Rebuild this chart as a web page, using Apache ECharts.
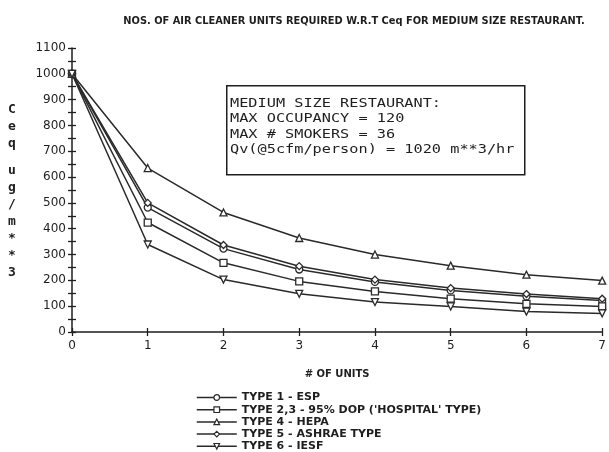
<!DOCTYPE html>
<html>
<head>
<meta charset="utf-8">
<script src="https://cdn.jsdelivr.net/npm/echarts@6/dist/echarts.min.js"></script>
<style>
  html, body { margin: 0; padding: 0; background: #fff; }
  #chart { width: 609px; height: 452px; }
</style>
</head>
<body>
<div id="chart"></div>
<script>
// Number of air cleaner units on the x axis
const units = [0, 1, 2, 3, 4, 5, 6, 7];

// Equilibrium concentration Ceq (ug/m**3) for each air cleaner type
const type1Esp      = [1000, 482, 323, 242, 194, 161, 138, 122];
const type23Dop     = [1000, 424, 268, 196, 157, 129, 109,  99];
const type4Hepa     = [1000, 635, 463, 364, 300, 257, 222, 199];
const type5Ashrae   = [1000, 500, 337, 255, 203, 170, 147, 129];
const type6Iesf     = [1000, 339, 203, 148, 116,  99,  79,  72];

const seriesNames = [
  "TYPE 1 - ESP",
  "TYPE 2,3 - 95% DOP ('HOSPITAL' TYPE)",
  "TYPE 4 - HEPA",
  "TYPE 5 - ASHRAE TYPE",
  "TYPE 6 - IESF"
];

const yTicks = { min: 0, max: 1100, step: 100 };
const xTicks = { min: 0, max: 7, step: 1 };

const titleText = "NOS. OF AIR CLEANER UNITS REQUIRED W.R.T Ceq FOR MEDIUM SIZE RESTAURANT.";
const xName = "# OF UNITS";
const boxLines = [
  "MEDIUM SIZE RESTAURANT:",
  "MAX OCCUPANCY = 120",
  "MAX # SMOKERS = 36",
  "Qv(@5cfm/person) = 1020 m**3/hr"
];

const ink = '#1e1e1e';
const lineInk = '#2a2a2a';
const labelFont = 'DejaVu Sans';
const monoFont = 'DejaVu Sans Mono';

function pairs(vals) { return units.map((u, i) => [u, vals[i]]); }

function lineSeries(name, vals, symbol, rotate) {
  return {
    name: name,
    type: 'line',
    data: pairs(vals),
    symbol: symbol,
    symbolSize: 7,
    symbolRotate: rotate || 0,
    showAllSymbol: true,
    lineStyle: { color: lineInk, width: 1.5 },
    itemStyle: { color: '#fff', borderColor: lineInk, borderWidth: 1.3 },
    emphasis: { disabled: true },
    z: 3
  };
}

const chart = echarts.init(document.getElementById('chart'), null, { renderer: 'canvas' });

const axisLineStyle = { color: ink, width: 1.5 };
const tickStyle = { color: ink, width: 1.3 };

const option = {
  backgroundColor: '#ffffff',
  animation: false,
  title: {
    text: titleText,
    left: 349,
    top: 11,
    textAlign: 'center',
    textStyle: { fontFamily: labelFont, fontSize: 9.85, fontWeight: 'bold', color: ink }
  },
  grid: { left: 72, right: 5, top: 48, bottom: 120, containLabel: false },
  xAxis: [
    {
      type: 'value', min: xTicks.min, max: xTicks.max, interval: xTicks.step,
      position: 'bottom',
      name: xName, nameLocation: 'middle', nameGap: 37,
      nameTextStyle: { fontFamily: labelFont, fontSize: 10, fontWeight: 'bold', color: ink },
      axisLine: { show: true, lineStyle: axisLineStyle },
      axisTick: { show: true, length: 4, lineStyle: tickStyle },
      axisLabel: { fontFamily: labelFont, fontSize: 12, color: ink, margin: 8 },
      splitLine: { show: false }
    },
    {
      type: 'value', min: xTicks.min, max: xTicks.max, interval: xTicks.step,
      position: 'bottom', offset: 0,
      axisLine: { show: false },
      axisTick: { show: true, inside: true, length: 4, lineStyle: tickStyle },
      axisLabel: { show: false },
      splitLine: { show: false }
    }
  ],
  yAxis: [
    {
      type: 'value', min: yTicks.min, max: yTicks.max, interval: yTicks.step,
      position: 'left',
      axisLine: { show: true, lineStyle: axisLineStyle },
      axisTick: { show: true, length: 4, lineStyle: tickStyle },
      minorTick: { show: true, splitNumber: 2, length: 4, lineStyle: tickStyle },
      axisLabel: { fontFamily: labelFont, fontSize: 12, color: ink, margin: 6, formatter: v => String(v) },
      splitLine: { show: false },
      minorSplitLine: { show: false }
    },
    {
      type: 'value', min: yTicks.min, max: yTicks.max, interval: yTicks.step,
      position: 'left', offset: 0,
      axisLine: { show: false },
      axisTick: { show: true, inside: true, length: 4, lineStyle: tickStyle },
      minorTick: { show: true, splitNumber: 2, length: 4, lineStyle: tickStyle },
      axisLabel: { show: false },
      splitLine: { show: false },
      minorSplitLine: { show: false }
    }
  ],
  legend: {
    orient: 'vertical',
    left: 196,
    top: 392,
    itemWidth: 40,
    itemHeight: 7,
    itemGap: 1.2,
    padding: 0,
    data: seriesNames,
    selectedMode: false,
    itemStyle: { color: '#fff', borderColor: lineInk, borderWidth: 1.2 },
    lineStyle: { color: lineInk, width: 1.5 },
    textStyle: { fontFamily: labelFont, fontSize: 11, fontWeight: 'bold', color: ink, lineHeight: 11 }
  },
  series: [
    lineSeries(seriesNames[0], type1Esp, 'circle'),
    lineSeries(seriesNames[1], type23Dop, 'rect'),
    lineSeries(seriesNames[2], type4Hepa, 'triangle'),
    lineSeries(seriesNames[3], type5Ashrae, 'diamond'),
    lineSeries(seriesNames[4], type6Iesf, 'triangle', 180)
  ],
  graphic: [
    // stacked y-axis title: Ceq ug/m**3
    {
      type: 'text', left: 8, top: 101,
      style: { text: 'C\ne\nq', fontFamily: monoFont, fontSize: 13, fontWeight: 'bold', lineHeight: 17, fill: ink }
    },
    {
      type: 'text', left: 8, top: 162,
      style: { text: 'u\ng\n/\nm\n*\n*\n3', fontFamily: monoFont, fontSize: 13, fontWeight: 'bold', lineHeight: 17, fill: ink }
    },
    // information box
    {
      type: 'rect', left: 226, top: 85,
      shape: { width: 298, height: 89 },
      style: { fill: '#fff', stroke: ink, lineWidth: 1.5 },
      z: 10
    },
    {
      type: 'text', left: 230, top: 96, scaleX: 1.27, z: 11,
      style: { text: boxLines.join('\n'), fontFamily: monoFont, fontSize: 12, lineHeight: 15.5, fill: ink }
    }
  ]
};

chart.setOption(option);
</script>
</body>
</html>
